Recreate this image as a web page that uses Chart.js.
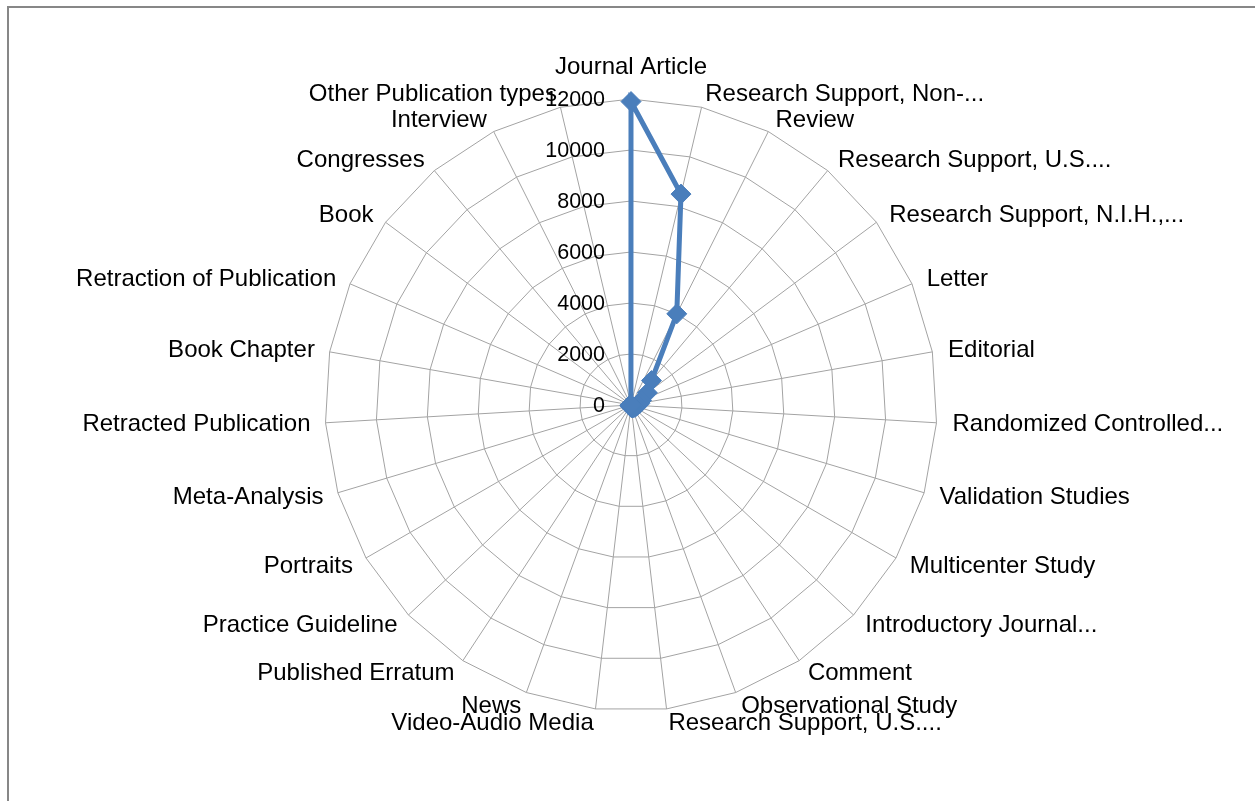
<!DOCTYPE html>
<html>
<head>
<meta charset="utf-8">
<title>Publication types</title>
<script src="https://cdn.jsdelivr.net/npm/chart.js@4/dist/chart.umd.min.js"></script>
<style>
  html, body { margin: 0; padding: 0; background: #fff; overflow: hidden; }
  #frame {
    position: absolute; left: 7px; top: 6px; width: 1400px; height: 1000px;
    border-top: 2px solid #878787; border-left: 2px solid #878787;
  }
  #wrap { position: absolute; left: 0; top: 0; width: 1255px; height: 801px; }
</style>
</head>
<body>
<div id="frame"></div>
<div id="wrap"><canvas id="radar"></canvas></div>
<script>
const categories = [
  'Journal Article',
  'Research Support, Non-...',
  'Review',
  'Research Support, U.S....',
  'Research Support, N.I.H.,...',
  'Letter',
  'Editorial',
  'Randomized Controlled...',
  'Validation Studies',
  'Multicenter Study',
  'Introductory Journal...',
  'Comment',
  'Observational Study',
  'Research Support, U.S....',
  'Video-Audio Media',
  'News',
  'Published Erratum',
  'Practice Guideline',
  'Portraits',
  'Meta-Analysis',
  'Retracted Publication',
  'Book Chapter',
  'Retraction of Publication',
  'Book',
  'Congresses',
  'Interview',
  'Other Publication types'
];
const counts = [
  11900, 8500, 4000, 1250, 800, 450, 350, 250, 200, 180, 150, 130, 110, 100,
  60, 50, 40, 40, 30, 30, 20, 20, 15, 10, 10, 10, 10
];
const tickValues = [0, 2000, 4000, 6000, 8000, 10000, 12000];

const BLUE = '#4a7ebb';
const GRID = '#a3a3a3';

// Excel-style labels: ticks left of the top spoke, category names outside the vertices
const excelLabels = {
  id: 'excelLabels',
  beforeDatasetsDraw(chart) {
    const r = chart.scales.r;
    const ctx = chart.ctx;
    ctx.save();
    ctx.fillStyle = '#000';
    ctx.textBaseline = 'middle';

    ctx.font = '21.5px "Liberation Sans", Arial, sans-serif';
    ctx.textAlign = 'right';
    tickValues.forEach(v => {
      const d = r.getDistanceFromCenterForValue(v);
      ctx.fillText(String(v), r.xCenter - 26, r.yCenter - d + 1);
    });

    ctx.font = '24px "Liberation Sans", Arial, sans-serif';
    categories.forEach((name, i) => {
      const p = r.getPointPosition(i, r.drawingArea);
      const s = Math.cos(p.angle);
      const c = -Math.sin(p.angle);
      let x, y;
      if (Math.abs(s) < 0.01) {
        ctx.textAlign = 'center';
        x = p.x;
        y = c > 0 ? p.y - 32 : p.y + 32;
      } else if (s > 0) {
        ctx.textAlign = 'left';
        x = p.x + 16 * s;
        y = p.y - 14 * c + 1;
      } else {
        ctx.textAlign = 'right';
        x = p.x + 15 * s;
        y = p.y - 14 * c + 1;
      }
      ctx.fillText(name, x, y);
    });
    ctx.restore();
  }
};

new Chart(document.getElementById('radar'), {
  type: 'radar',
  data: {
    labels: categories,
    datasets: [{
      label: 'Publications',
      data: counts,
      borderColor: BLUE,
      backgroundColor: BLUE,
      borderWidth: 5,
      fill: false,
      tension: 0,
      clip: false,
      pointStyle: 'rectRot',
      pointRadius: 10,
      pointBorderWidth: 1,
      pointBackgroundColor: BLUE,
      pointBorderColor: BLUE
    }]
  },
  options: {
    responsive: true,
    maintainAspectRatio: false,
    animation: false,
    layout: { padding: { left: 7, right: 0, top: 99, bottom: 90 } },
    plugins: {
      legend: { display: false },
      tooltip: { enabled: false }
    },
    scales: {
      r: {
        min: 0,
        max: 12000,
        ticks: { stepSize: 2000, display: false },
        grid: { color: GRID, lineWidth: 1 },
        angleLines: { color: GRID, lineWidth: 1 },
        pointLabels: { display: false }
      }
    }
  },
  plugins: [excelLabels]
});
</script>
</body>
</html>
